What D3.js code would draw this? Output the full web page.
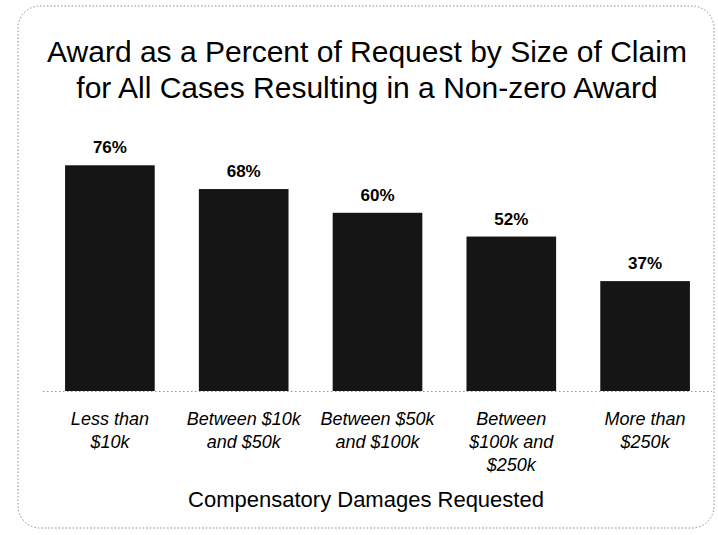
<!DOCTYPE html>
<html>
<head>
<meta charset="utf-8">
<script src="https://cdn.jsdelivr.net/npm/d3@7"></script>
<style>
  html, body { margin: 0; padding: 0; background: #fff; }
  svg { display: block; }
  text { font-family: "Liberation Sans", Arial, sans-serif; fill: #000; }
</style>
</head>
<body>
<svg id="chart" width="718" height="535"></svg>
<script>
const titleLines = [
  "Award as a Percent of Request by Size of Claim",
  "for All Cases Resulting in a Non-zero Award"
];
const categories = [
  "Less than\n$10k",
  "Between $10k\nand $50k",
  "Between $50k\nand $100k",
  "Between\n$100k and\n$250k",
  "More than\n$250k"
];
const values = [76, 68, 60, 52, 37];
const xAxisTitle = "Compensatory Damages Requested";

const svg = d3.select("#chart");

// frame
svg.append("rect")
  .attr("x", 18).attr("y", 6)
  .attr("width", 696).attr("height", 522)
  .attr("rx", 22).attr("ry", 22)
  .attr("fill", "none")
  .attr("stroke", "#8a8a8a")
  .attr("stroke-width", 1)
  .attr("stroke-dasharray", "1.5,2");

// title
svg.append("g").selectAll("text")
  .data(titleLines).join("text")
  .attr("x", 367)
  .attr("y", (d, i) => 62 + i * 36)
  .attr("text-anchor", "middle")
  .attr("font-size", 30)
  .text(d => d);

const x = d3.scaleBand()
  .domain(categories)
  .range([43, 712])
  .paddingInner(0.33)
  .paddingOuter(0.165);

const y = d3.scaleLinear()
  .domain([0, 100])
  .range([391, 94]);

// bars
svg.append("g").selectAll("rect")
  .data(values).join("rect")
  .attr("x", (d, i) => x(categories[i]))
  .attr("y", d => y(d))
  .attr("width", x.bandwidth())
  .attr("height", d => y(0) - y(d))
  .attr("fill", "#151515");

// baseline (dotted axis)
svg.append("line")
  .attr("x1", 43).attr("x2", 712)
  .attr("y1", y(0) + 0.5).attr("y2", y(0) + 0.5)
  .attr("stroke", "#999")
  .attr("stroke-width", 1)
  .attr("stroke-dasharray", "1.5,2.5");

// value labels
svg.append("g").selectAll("text")
  .data(values).join("text")
  .attr("x", (d, i) => x(categories[i]) + x.bandwidth() / 2)
  .attr("y", d => y(d) - 12)
  .attr("text-anchor", "middle")
  .attr("font-size", 17)
  .attr("font-weight", "bold")
  .text(d => d + "%");

// category labels
const xAxis = d3.axisBottom(x).tickSize(0).tickPadding(0).tickFormat("");
const gx = svg.append("g")
  .attr("transform", `translate(0,${y(0)})`)
  .call(xAxis);
gx.select(".domain").remove();
gx.selectAll(".tick").each(function(d) {
  const t = d3.select(this).append("text")
    .attr("text-anchor", "middle")
    .attr("font-size", 18)
    .attr("font-style", "italic")
    .attr("fill", "#000");
  d.split("\n").forEach((line, i) => {
    t.append("tspan").attr("x", 0).attr("y", 34 + i * 23).text(line);
  });
});

// x-axis title
svg.append("text")
  .attr("x", 366)
  .attr("y", 507)
  .attr("text-anchor", "middle")
  .attr("font-size", 22)
  .text(xAxisTitle);
</script>
</body>
</html>
